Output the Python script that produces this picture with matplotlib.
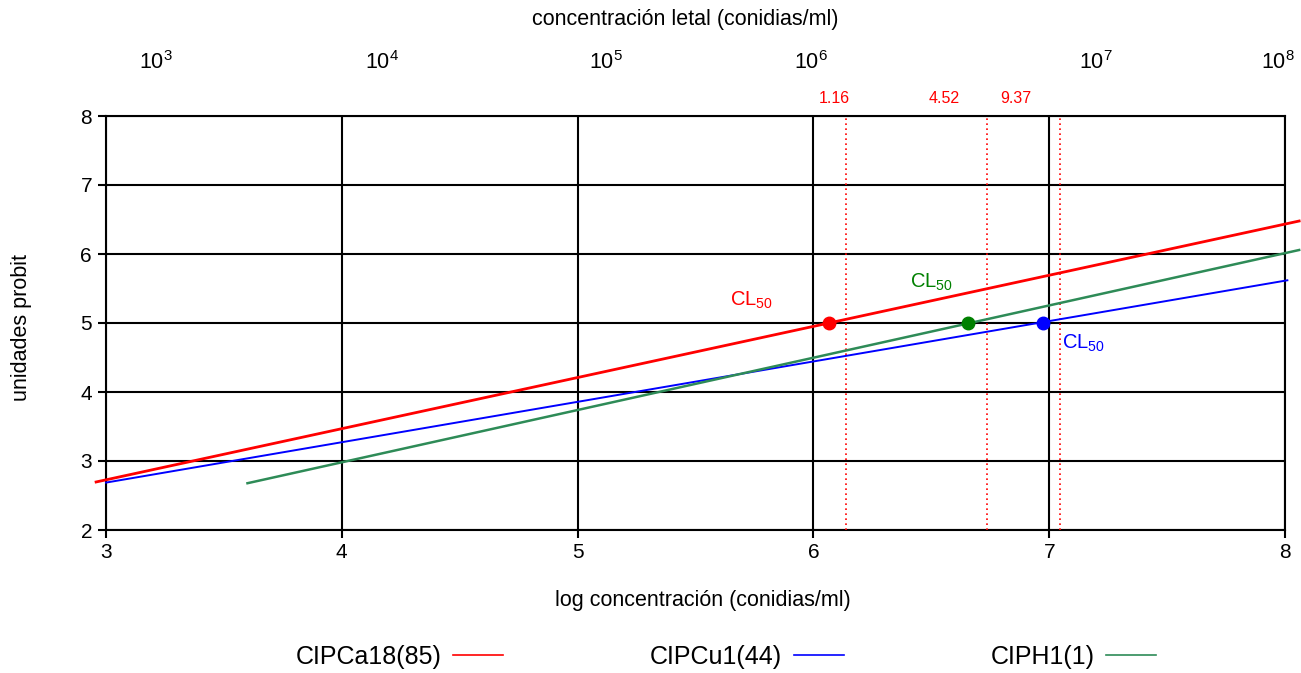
import matplotlib
matplotlib.use("Agg")
import matplotlib.pyplot as plt
import numpy as np

plt.rcParams['font.family'] = ['Liberation Sans', 'DejaVu Sans']
plt.rcParams['mathtext.fontset'] = 'custom'
plt.rcParams['mathtext.rm'] = 'Liberation Sans'
plt.rcParams['mathtext.it'] = 'Liberation Sans'

# Data
series = ["CIPCa18(85)", "CIPCu1(44)", "CIPH1(1)"]
line_x = [[2.958, 8.06], [3.0, 8.01], [3.60, 8.06]]
line_y = [[2.696, 6.478], [2.687, 5.619], [2.678, 6.058]]
lc50_values = [1.16e6, 9.37e6, 4.52e6]
lc50_labels = ["1.16", "9.37", "4.52"]
dotted_x = [6.14, 7.045, 6.735]
lc50_label_x = [6.09, 6.86, 6.554]
top_tick_pos = [3.21, 4.17, 5.12, 5.99, 7.20, 7.97]
top_tick_exp = [3, 4, 5, 6, 7, 8]
cl_label_pos = [(5.646, 5.33), (7.054, 4.71), (6.41, 5.59)]

line_colors = ["#ff0000", "#0000ff", "#2e8b57"]
dot_colors = ["#ff0000", "#0000ff", "#008000"]
label_colors = ["#ff0000", "#0000ff", "#008000"]
line_widths = [2.0, 1.4, 1.8]

fig = plt.figure(figsize=(13.01, 6.73), dpi=100)
ax = fig.add_axes([106/1301, 1-530/673, (1285-106)/1301, (530-116)/673])
ax.set_xlim(3, 8)
ax.set_ylim(2, 8)
ax.set_xticks(range(3, 9))
ax.set_yticks(range(2, 9))
ax.grid(True, color='black', linewidth=1.5)
ax.set_axisbelow(True)
for s in ax.spines.values():
    s.set_linewidth(1.5)
ax.tick_params(labelsize=15, width=1.5, length=6, direction='out', pad=4)
ax.tick_params(axis='x', pad=3)
ax.set_xlabel("log concentración (conidias/ml)", fontsize=15.5)
ax.xaxis.set_label_coords(0.506, -0.145)
ax.set_ylabel("unidades probit", fontsize=15.5)
ax.yaxis.set_label_coords(-0.0628, 0.49)

handles = []
for i in range(3):
    h, = ax.plot(line_x[i], line_y[i], color=line_colors[i], lw=line_widths[i],
                 clip_on=False, zorder=4, label=series[i])
    handles.append(h)
    lx = np.log10(lc50_values[i])
    ax.plot([lx], [5], 'o', color=dot_colors[i], ms=9, zorder=6, clip_on=False)
    ax.axvline(dotted_x[i], color='red', lw=1.2, ls=(0, (1, 2)), zorder=3)
    ax.text(lc50_label_x[i], 8.15, lc50_labels[i], color='red', fontsize=11.5,
            ha='center', va='bottom')
    cx, cy = cl_label_pos[i]
    ax.text(cx, cy, "CL$_{50}$", color=label_colors[i], fontsize=14.5,
            ha='left', va='center')

for p, e in zip(top_tick_pos, top_tick_exp):
    ax.text(p, 8.78, "10$^{%d}$" % e, fontsize=15.5, ha='center', va='center')
ax.text(0.491, 1.232, "concentración letal (conidias/ml)", transform=ax.transAxes,
        fontsize=15.5, ha='center', va='center')

leg_handles = [plt.Line2D([], [], color=c, lw=1.2) for c in line_colors]
fig.legend(handles=leg_handles, labels=series, loc='center', bbox_to_anchor=(0.558, 1-657/673),
           ncol=3, frameon=False, markerfirst=False, fontsize=18, handlelength=2.0,
           columnspacing=5.9, handletextpad=0.45)

fig.savefig("out.png", dpi=100)
